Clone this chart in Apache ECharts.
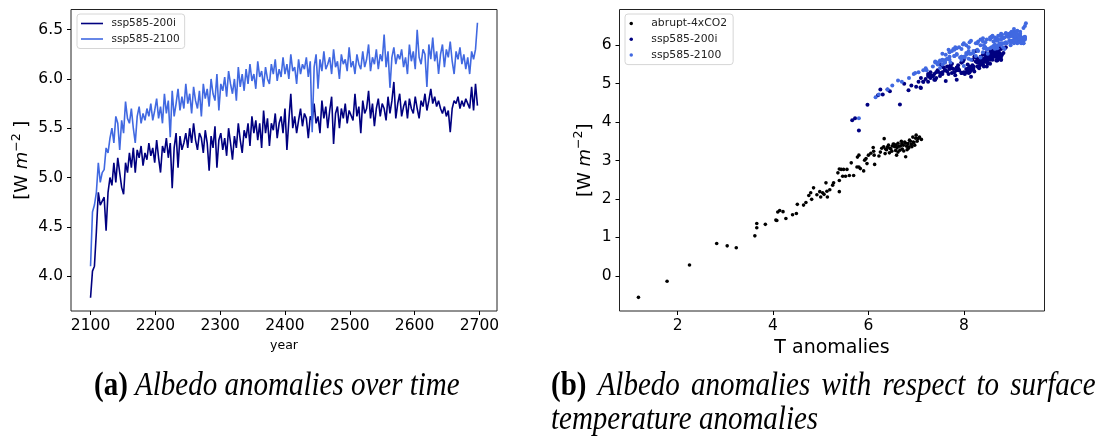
<!DOCTYPE html>
<html>
<head>
<meta charset="utf-8">
<script src="https://cdn.jsdelivr.net/npm/echarts@6/dist/echarts.min.js"></script>
<style>
  html, body { margin: 0; padding: 0; background: #fff; }
  #chart { width: 1106px; height: 440px; }
</style>
</head>
<body>
<div id="chart"></div>
<script>
// ---------- data ----------
const startYear = 2100;
const yearStep = 3;
const yearTicks = [2100, 2200, 2300, 2400, 2500, 2600, 2700];
const albedoTicks = [4.0, 4.5, 5.0, 5.5, 6.0, 6.5];
const tTicks = [2, 4, 6, 8];
const scatterYTicks = [0, 1, 2, 3, 4, 5, 6];
const seriesNames = ['abrupt-4xCO2', 'ssp585-200i', 'ssp585-2100'];

// albedo anomaly, ssp585-200i (every 3 years from 2100)
const albedo200i = [
  3.78, 4.05, 4.10, 4.45, 4.85, 4.72, 4.70, 4.80, 4.46, 4.85,
  5.00, 4.92, 5.15, 4.95, 5.20, 5.05, 4.90, 4.83, 5.15, 5.05,
  5.25, 5.10, 5.30, 5.05, 5.28, 5.20, 5.32, 5.12, 5.25, 5.18,
  5.35, 5.22, 5.30, 5.15, 5.38, 5.20, 5.05, 5.32, 5.25, 5.40,
  5.20, 5.35, 4.89, 5.30, 5.45, 5.10, 5.42, 5.28, 5.35, 5.45,
  5.30, 5.50, 5.35, 5.55, 5.38, 5.28, 5.45, 5.40, 5.25, 5.48,
  5.35, 5.07, 5.42, 5.30, 5.52, 5.10, 5.38, 5.45, 5.28, 5.40,
  5.22, 5.50, 5.35, 5.18, 5.42, 5.30, 5.55, 5.38, 5.25, 5.48,
  5.40, 5.55, 5.32, 5.62, 5.45, 5.58, 5.38, 5.55, 5.30, 5.68,
  5.45, 5.60, 5.32, 5.55, 5.48, 5.65, 5.40, 5.55, 5.62, 5.45,
  5.70, 5.28, 5.58, 5.85, 5.50, 5.62, 5.45, 5.58, 5.70, 5.52,
  5.65, 5.60, 5.40, 5.62, 5.58, 5.75, 5.55, 5.62, 5.45, 5.78,
  5.60, 5.72, 5.50, 5.68, 5.82, 5.34, 5.65, 5.72, 5.50, 5.70,
  5.60, 5.75, 5.55, 5.68, 5.70, 5.58, 5.85, 5.62, 5.72, 5.45,
  5.78, 5.65, 5.70, 5.88, 5.60, 5.75, 5.52, 5.70, 5.80, 5.62,
  5.75, 5.70, 5.58, 5.82, 5.65, 5.78, 5.97, 5.60, 5.75, 5.85,
  5.62, 5.72, 5.78, 5.60, 5.80, 5.70, 5.65, 5.82, 5.70, 5.60,
  5.78, 5.72, 5.85, 5.68, 5.78, 5.90, 5.75, 5.82, 5.72, 5.78,
  5.70, 5.65, 5.72, 5.62, 5.68, 5.46, 5.70, 5.78, 5.75, 5.82,
  5.70, 5.78, 5.72, 5.80, 5.75, 5.70, 5.92, 5.68, 5.95, 5.73
];

// albedo anomaly, ssp585-2100 (every 3 years from 2100)
const albedo2100 = [
  4.10, 4.65, 4.72, 4.85, 5.15, 4.95, 5.05, 5.08, 5.30, 5.25,
  5.40, 5.50, 5.35, 5.62, 5.55, 5.28, 5.58, 5.45, 5.77, 5.60,
  5.55, 5.70, 5.50, 5.35, 5.62, 5.72, 5.55, 5.65, 5.58, 5.70,
  5.62, 5.75, 5.58, 5.68, 5.80, 5.60, 5.72, 5.55, 5.85, 5.65,
  5.78, 5.41, 5.88, 5.62, 5.75, 5.90, 5.68, 5.82, 5.70, 5.95,
  5.75, 5.85, 5.65, 5.92, 5.78, 5.70, 5.88, 5.62, 5.95, 5.80,
  5.90, 5.72, 6.00, 5.85, 5.78, 6.05, 5.68, 5.95, 5.88, 6.02,
  5.82, 6.08, 5.95, 5.85, 6.00, 5.78, 6.12, 5.92, 6.05, 5.88,
  6.10, 5.95, 6.15, 5.98, 6.05, 5.90, 6.18, 6.02, 6.08, 5.92,
  6.12, 6.00, 5.95, 6.15, 6.05, 6.20, 5.98, 6.10, 6.02, 6.22,
  6.05, 6.15, 6.00, 6.25, 6.08, 6.12, 5.95, 6.20, 6.05, 6.15,
  6.10, 6.22, 6.02, 6.18, 5.46, 6.12, 6.25, 5.90, 6.20, 6.08,
  6.28, 6.10, 6.15, 6.22, 6.05, 6.30, 6.12, 6.18, 6.00, 6.25,
  6.15, 6.20, 6.08, 6.32, 6.12, 6.18, 6.05, 6.25, 6.15, 6.10,
  6.28, 6.12, 6.20, 6.35, 6.08, 6.22, 6.15, 6.30, 6.10, 6.25,
  6.18, 6.45, 6.12, 6.28, 5.91, 6.22, 6.32, 6.15, 6.25, 6.20,
  6.30, 6.12, 6.22, 6.05, 6.35, 6.18, 6.28, 6.10, 6.50, 6.22,
  6.15, 6.30, 6.25, 5.92, 6.35, 6.20, 6.42, 6.18, 6.28, 6.05,
  6.25, 6.35, 6.12, 6.30, 6.22, 6.38, 6.18, 6.05, 6.28, 6.20,
  6.32, 6.15, 6.25, 6.10, 6.22, 6.05, 6.28, 6.20, 6.30, 6.57
];

// surface temperature anomaly for the same years, ssp585-200i
const temp200i = [
  5.80, 5.66, 5.72, 5.98, 6.25, 6.30, 6.20, 6.45, 6.66, 6.40,
  6.75, 7.00, 7.10, 6.90, 7.25, 7.15, 7.09, 6.84, 7.30, 7.05,
  7.25, 7.40, 7.30, 7.15, 7.50, 7.35, 7.45, 7.20, 7.55, 7.28,
  7.60, 7.30, 7.55, 7.42, 7.70, 7.50, 7.25, 7.65, 7.38, 7.75,
  7.35, 7.62, 7.10, 7.42, 7.70, 7.38, 7.58, 7.75, 7.45, 7.65,
  7.80, 7.52, 7.85, 7.60, 7.78, 7.95, 7.55, 7.88, 7.68, 7.72,
  7.90, 7.62, 7.70, 8.00, 7.75, 7.85, 8.05, 7.72, 7.95, 8.10,
  7.82, 8.08, 7.90, 8.15, 7.85, 8.12, 7.95, 8.20, 8.02, 7.88,
  8.15, 7.95, 8.22, 8.00, 8.28, 7.98, 8.18, 8.32, 8.05, 8.25,
  8.12, 8.35, 8.08, 8.30, 8.18, 8.38, 8.15, 8.28, 8.42, 8.20,
  8.35, 8.10, 8.45, 8.25, 8.40, 8.18, 8.48, 8.30, 8.22, 8.50,
  8.28, 8.45, 8.32, 8.55, 8.25, 8.48, 8.38, 8.60, 8.30, 8.52,
  8.42, 8.58, 8.35, 8.50, 8.62, 8.15, 8.45, 8.65, 8.40, 8.55,
  8.48, 8.62, 8.38, 8.55, 8.68, 8.45, 8.60, 8.50, 8.70, 8.42,
  8.58, 8.72, 8.50, 8.65, 8.45, 8.75, 8.55, 8.68, 8.62, 8.78,
  8.40, 8.58, 8.48, 8.68, 8.43, 8.60, 8.73, 8.50, 8.63, 8.56,
  8.48, 8.66, 8.53, 8.70, 8.46, 8.63, 8.58, 8.73, 8.50, 8.68,
  8.60, 8.46, 8.73, 8.56, 8.68, 8.78, 8.53, 8.66, 8.76, 8.58,
  8.70, 8.56, 8.63, 8.78, 8.50, 8.33, 8.73, 8.60, 8.80, 8.66,
  8.58, 8.76, 8.68, 8.83, 8.63, 8.78, 8.86, 8.70, 8.88, 8.73
];

// surface temperature anomaly for the same years, ssp585-2100
const temp2100 = [
  5.80, 6.15, 6.22, 6.40, 6.85, 6.50, 6.70, 6.62, 7.05, 6.95,
  7.20, 7.45, 7.15, 7.55, 7.60, 6.98, 7.40, 7.35, 7.85, 7.50,
  7.40, 7.70, 7.55, 7.22, 7.62, 7.80, 7.45, 7.68, 7.50, 7.95,
  7.70, 7.85, 7.60, 7.92, 8.05, 7.55, 7.80, 7.72, 8.10, 7.65,
  7.55, 7.50, 7.68, 7.95, 7.62, 7.78, 8.02, 7.70, 8.00, 7.82,
  8.05, 7.75, 8.10, 7.85, 8.12, 7.95, 7.80, 8.15, 7.90, 8.20,
  7.95, 8.25, 8.05, 8.30, 8.15, 8.00, 8.35, 8.10, 8.28, 7.98,
  8.40, 8.12, 8.45, 8.20, 8.35, 8.50, 8.15, 8.42, 8.25, 8.48,
  8.30, 8.58, 8.35, 8.62, 8.28, 8.50, 8.40, 8.65, 8.45, 8.55,
  8.70, 8.42, 8.62, 8.48, 8.75, 8.55, 8.68, 8.40, 8.78, 8.58,
  8.80, 8.55, 8.72, 8.60, 8.88, 8.65, 8.82, 8.58, 8.90, 8.70,
  8.62, 8.92, 8.75, 8.68, 8.00, 8.95, 8.72, 8.85, 8.65, 8.98,
  8.80, 9.00, 8.72, 8.95, 8.85, 8.78, 9.05, 8.82, 8.98, 8.75,
  9.05, 8.80, 9.10, 8.88, 9.00, 8.82, 9.12, 8.90, 8.78, 9.08,
  8.92, 9.15, 8.85, 9.05, 9.18, 8.95, 9.10, 8.88, 9.20, 9.00,
  9.12, 9.25, 9.05, 8.90, 8.65, 9.18, 8.98, 9.22, 9.02, 9.15,
  8.95, 9.20, 9.08, 9.25, 9.00, 9.15, 8.98, 9.22, 9.28, 9.05,
  9.22, 9.00, 9.18, 8.70, 9.10, 9.25, 9.05, 9.28, 8.98, 9.20,
  9.08, 9.18, 9.25, 9.02, 9.28, 9.12, 9.22, 9.05, 9.15, 9.26,
  9.10, 9.28, 9.00, 9.22, 9.15, 9.25, 9.05, 9.28, 9.18, 9.30
];

// abrupt-4xCO2: temperature anomaly and albedo anomaly
const abruptT = [
  1.18, 1.78, 2.25, 2.82, 3.04, 3.23, 3.62, 3.66, 3.66, 3.84,
  4.06, 4.08, 4.10, 4.14, 4.21, 4.27, 4.41, 4.49, 4.51, 4.64,
  4.69, 4.75, 4.79, 4.81, 4.85, 4.92, 4.98, 5.00, 5.04, 5.07,
  5.11, 5.13, 5.14, 5.19, 5.25, 5.27, 5.36, 5.39, 5.39, 5.39,
  5.43, 5.48, 5.55, 5.46, 5.52, 5.60, 5.69, 5.64, 5.76, 5.77,
  5.80, 5.80, 5.83, 5.90, 5.92, 5.95, 5.97, 6.00, 6.05, 6.10,
  6.11, 6.12, 6.13, 6.22, 6.25, 6.28, 6.32, 6.33, 6.35, 6.38,
  6.42, 6.45, 6.49, 6.52, 6.55, 6.57, 6.59, 6.62, 6.64, 6.66,
  6.69, 6.73, 6.74, 6.76, 6.80, 6.81, 6.83, 6.86, 6.90, 6.93,
  6.94, 6.97, 7.00, 7.04, 7.07, 7.11, 6.78, 6.40, 6.47, 6.54,
  6.60, 6.67, 6.71, 6.78, 6.85, 6.88, 6.95, 6.58, 6.62, 6.70,
  6.50, 6.44, 6.36, 7.02, 6.99, 6.91, 6.84
];
const abruptAlbedo = [
  -0.56, -0.14, 0.28, 0.84, 0.78, 0.73, 1.04, 1.36, 1.25, 1.34,
  1.45, 1.44, 1.66, 1.70, 1.67, 1.49, 1.59, 1.62, 1.86, 1.84,
  1.91, 2.09, 2.16, 1.99, 2.29, 2.11, 2.19, 2.05, 2.16, 2.12,
  2.42, 2.20, 2.05, 2.24, 2.36, 2.42, 2.68, 2.78, 2.48, 2.19,
  2.77, 2.77, 2.77, 2.59, 2.59, 2.61, 2.61, 2.94, 2.83, 3.09,
  3.14, 2.83, 2.79, 2.73, 3.01, 3.05, 2.92, 3.14, 3.19, 3.34,
  3.24, 3.14, 2.90, 3.12, 3.22, 3.32, 3.36, 3.57, 3.18, 3.28,
  3.40, 3.32, 3.24, 3.43, 3.36, 3.26, 3.14, 3.45, 3.37, 3.27,
  3.50, 3.40, 3.25, 3.48, 3.37, 3.28, 3.44, 3.53, 3.42, 3.61,
  3.48, 3.40, 3.66, 3.57, 3.61, 3.55, 3.10, 3.35, 3.30, 3.42,
  3.33, 3.38, 3.30, 3.45, 3.36, 3.50, 3.47, 3.40, 3.22, 3.44,
  3.38, 3.20, 3.30, 3.50, 3.58, 3.36, 3.32
];

// ---------- build ----------
const colors = { abrupt: '#000000', s200i: '#000080', s2100: '#4169E1' };
const fontSans = "'DejaVu Sans', sans-serif";
const fontSerif = "'Liberation Serif', 'Times New Roman', serif";

function yearPairs(vals) { return vals.map((v, i) => [startYear + i * yearStep, v]); }
function zipPairs(xs, ys) {
  const n = Math.min(xs.length, ys.length);
  const out = [];
  for (let i = 0; i < n; i++) out.push([xs[i], ys[i]]);
  return out;
}

const chart = echarts.init(document.getElementById('chart'), null, { renderer: 'canvas' });

const tickLabel = { color: '#000', fontSize: 15.5, fontFamily: fontSans };
const tick = { show: true, inside: false, length: 4, lineStyle: { color: '#000', width: 1 } };
const noLine = { show: false, onZero: false };

const yNameRich = {
  it: { fontStyle: 'italic', fontSize: 18, fontFamily: fontSans, color: '#000' },
  sup: { fontSize: 12.5, fontFamily: fontSans, color: '#000', padding: [0, 0, 12, 0] }
};

const capFont = 29;
const capRich = {
  b: { fontWeight: 'bold', fontSize: capFont, fontFamily: fontSerif, color: '#000' },
  i: { fontStyle: 'italic', fontSize: capFont, fontFamily: fontSerif, color: '#000' },
  s: { fontSize: capFont, fontFamily: fontSerif, width: 11.2 }
};

const option = {
  animation: false,
  backgroundColor: '#fff',
  textStyle: { fontFamily: fontSans },
  grid: [
    { left: 71, top: 9.5, width: 426, height: 301.5, show: true, borderColor: '#222', borderWidth: 1, backgroundColor: 'transparent' },
    { left: 619.5, top: 9.5, width: 425, height: 301.5, show: true, borderColor: '#222', borderWidth: 1, backgroundColor: 'transparent' }
  ],
  xAxis: [
    {
      gridIndex: 0, type: 'value', min: 2069.85, max: 2727.15,
      axisLine: noLine, splitLine: { show: false },
      axisTick: Object.assign({ customValues: yearTicks }, tick),
      axisLabel: Object.assign({ customValues: yearTicks, margin: 7, formatter: v => String(Math.round(v)) }, tickLabel),
      name: 'year', nameLocation: 'middle', nameGap: 28,
      nameTextStyle: { fontSize: 12.5, color: '#000', fontFamily: fontSans }
    },
    {
      gridIndex: 1, type: 'value', min: 0.783, max: 9.69,
      axisLine: noLine, splitLine: { show: false },
      axisTick: Object.assign({ customValues: tTicks }, tick),
      axisLabel: Object.assign({ customValues: tTicks, margin: 7, formatter: v => String(Math.round(v)) }, tickLabel),
      name: 'T anomalies', nameLocation: 'middle', nameGap: 26,
      nameTextStyle: { fontSize: 19, color: '#000', fontFamily: fontSans }
    }
  ],
  yAxis: [
    {
      gridIndex: 0, type: 'value', min: 3.645, max: 6.705,
      axisLine: noLine, splitLine: { show: false },
      axisTick: Object.assign({ customValues: albedoTicks }, tick),
      axisLabel: Object.assign({ customValues: albedoTicks, margin: 8, formatter: v => v.toFixed(1) }, tickLabel),
      name: '[W {it|m}{sup|\u22122} ]', nameLocation: 'middle', nameRotate: 90, nameGap: 36,
      nameTextStyle: { fontSize: 18, color: '#000', fontFamily: fontSans, rich: yNameRich }
    },
    {
      gridIndex: 1, type: 'value', min: -0.915, max: 6.93,
      axisLine: noLine, splitLine: { show: false },
      axisTick: Object.assign({ customValues: scatterYTicks }, tick),
      axisLabel: Object.assign({ customValues: scatterYTicks, margin: 8, formatter: v => String(Math.round(v)) }, tickLabel),
      name: '[W {it|m}{sup|\u22122}]', nameLocation: 'middle', nameRotate: 90, nameGap: 22,
      nameTextStyle: { fontSize: 18, color: '#000', fontFamily: fontSans, rich: yNameRich }
    }
  ],
  legend: [
    {
      left: 77, top: 14, orient: 'vertical',
      data: [
        { name: seriesNames[1], icon: 'rect', itemStyle: { color: colors.s200i } },
        { name: seriesNames[2], icon: 'rect', itemStyle: { color: colors.s2100 } }
      ],
      itemWidth: 22, itemHeight: 1.6, itemGap: 2.5,
      padding: [3, 5, 3, 4],
      backgroundColor: '#fff', borderColor: '#d6d6d6', borderWidth: 1, borderRadius: 3,
      textStyle: { fontSize: 10.5, lineHeight: 13, color: '#222', fontFamily: fontSans, padding: [0, 0, 0, 3.5] },
      selectedMode: false
    },
    {
      left: 625, top: 14, orient: 'vertical',
      data: [
        { name: seriesNames[0], icon: 'circle', itemStyle: { color: colors.abrupt } },
        { name: seriesNames[1], icon: 'circle', itemStyle: { color: colors.s200i } },
        { name: seriesNames[2], icon: 'circle', itemStyle: { color: colors.s2100 } }
      ],
      itemWidth: 21, itemHeight: 3.5, itemGap: 2.8,
      padding: [3, 6, 3, 4.5],
      backgroundColor: '#fff', borderColor: '#d6d6d6', borderWidth: 1, borderRadius: 3,
      textStyle: { fontSize: 10.8, lineHeight: 13, color: '#222', fontFamily: fontSans, padding: [0, 0, 0, 4.5] },
      selectedMode: false
    }
  ],
  series: [
    {
      name: seriesNames[1], type: 'line', xAxisIndex: 0, yAxisIndex: 0,
      data: yearPairs(albedo200i), showSymbol: false, symbol: 'none',
      lineStyle: { color: colors.s200i, width: 1.6 }, itemStyle: { color: colors.s200i }, z: 2
    },
    {
      name: seriesNames[2], type: 'line', xAxisIndex: 0, yAxisIndex: 0,
      data: yearPairs(albedo2100), showSymbol: false, symbol: 'none',
      lineStyle: { color: colors.s2100, width: 1.6 }, itemStyle: { color: colors.s2100 }, z: 3
    },
    {
      name: seriesNames[0], type: 'scatter', xAxisIndex: 1, yAxisIndex: 1,
      data: zipPairs(abruptT, abruptAlbedo), symbolSize: 3.6,
      itemStyle: { color: colors.abrupt, opacity: 1 }, z: 2
    },
    {
      name: seriesNames[1], type: 'scatter', xAxisIndex: 1, yAxisIndex: 1,
      data: zipPairs(temp200i, albedo200i), symbolSize: 4,
      itemStyle: { color: colors.s200i, opacity: 1 }, z: 3
    },
    {
      name: seriesNames[2], type: 'scatter', xAxisIndex: 1, yAxisIndex: 1,
      data: zipPairs(temp2100, albedo2100), symbolSize: 4,
      itemStyle: { color: colors.s2100, opacity: 1 }, z: 4
    }
  ],
  graphic: [
    {
      type: 'text', x: 94, y: 386, scaleY: 1.15,
      style: {
        text: '{b|(a)} {i|Albedo anomalies over time}',
        align: 'left', verticalAlign: 'middle',
        rich: capRich, fontSize: capFont, fontFamily: fontSerif, fill: '#000'
      }
    },
    {
      type: 'text', x: 551, y: 386, scaleY: 1.15,
      style: {
        text: '{b|(b)}{s| }{i|Albedo}{s| }{i|anomalies}{s| }{i|with}{s| }{i|respect}{s| }{i|to}{s| }{i|surface}',
        align: 'left', verticalAlign: 'middle',
        rich: capRich, fontSize: capFont, fontFamily: fontSerif, fill: '#000'
      }
    },
    {
      type: 'text', x: 551, y: 420, scaleY: 1.15,
      style: {
        text: 'temperature anomalies',
        align: 'left', verticalAlign: 'middle',
        fontStyle: 'italic', fontSize: capFont, fontFamily: fontSerif, fill: '#000'
      }
    }
  ]
};

chart.setOption(option);
</script>
</body>
</html>
